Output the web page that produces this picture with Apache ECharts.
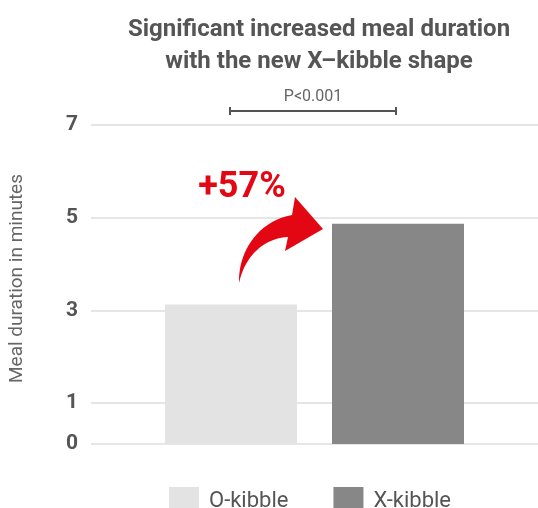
<!DOCTYPE html>
<html>
<head>
<meta charset="utf-8">
<script src="https://cdn.jsdelivr.net/npm/echarts@6/dist/echarts.min.js"></script>
<style>
	html, body { margin: 0; padding: 0; background: #fff; }
	#main { width: 538px; height: 508px; }
</style>
</head>
<body>
<div id="main"></div>
<script>
// 数据
var categories = ['O-kibble', 'X-kibble'];
var durations = [3.13, 4.87];
var barColors = ['#e3e3e3', '#878787'];
var increaseLabel = '+57%';
var pLabel = 'P<0.001';
var yBase = 0.12; // the bottom line, labelled "0"
var yTicks = [yBase, 1, 3, 5, 7];
var yTickLabels = ['0', '1', '3', '5', '7'];
var yMax = 7;

var FONT = 'Roboto';
var chart = echarts.init(document.getElementById('main'));

var series = [];
for (var i = 0; i < categories.length; i++) {
	var d = categories.map(function() { return '-'; });
	d[i] = durations[i];
	series.push({
		name : categories[i],
		type : 'bar',
		xAxisIndex : 1,
		yAxisIndex : 1,
		barWidth : 132,
		barGap : '-100%',
		itemStyle : { color : barColors[i] },
		data : d
	});
}

var option = {
	animation : false,
	title : {
		text : 'Significant increased meal duration\nwith the new X\u2013kibble shape',
		left : 314,
		top : 9,
		textAlign : 'center',
		textStyle : {
			fontFamily : FONT,
			fontSize : 24,
			fontWeight : 'bold',
			color : '#555',
			lineHeight : 32
		}
	},
	legend : {
		data : categories,
		left : 164,
		top : 482,
		icon : 'rect',
		itemWidth : 30,
		itemHeight : 28,
		itemGap : 45,
		textStyle : {
			fontFamily : FONT,
			fontSize : 22,
			color : '#555',
			padding : [0, 0, 0, 5]
		}
	},
	grid : [
		{ left : 86, right : 0, top : 125, bottom : 64 },
		{ left : 147.5, width : 334, top : 125, bottom : 64 }
	],
	xAxis : [
		{ type : 'category', gridIndex : 0, data : categories, show : false },
		{ type : 'category', gridIndex : 1, data : categories, show : false }
	],
	yAxis : [ {
		type : 'value',
		gridIndex : 0,
		min : yBase,
		max : yMax,
		name : 'Meal duration in minutes',
		nameLocation : 'middle',
		nameGap : 64,
		nameTextStyle : {
			fontFamily : FONT,
			fontSize : 19,
			color : '#666',
			padding : [0, 0, 0, 12]
		},
		axisLine : { show : false },
		axisTick : { show : false, customValues : yTicks },
		axisLabel : {
			customValues : yTicks,
			margin : 13,
			fontFamily : FONT,
			fontSize : 21,
			fontWeight : 'bold',
			color : '#555',
			formatter : function(v) {
				return yTickLabels[yTicks.indexOf(v)];
			}
		},
		splitLine : {
			show : true,
			lineStyle : { color : '#e6e6e6', width : 2 }
		}
	}, {
		type : 'value',
		gridIndex : 1,
		min : yBase,
		max : yMax,
		show : false,
		splitLine : { show : false }
	} ],
	series : series
};
chart.setOption(option);

// 显著性标注 + 箭头
var p0 = chart.convertToPixel({ xAxisIndex : 1, yAxisIndex : 1 }, [0, 7.3]);
var p1 = chart.convertToPixel({ xAxisIndex : 1, yAxisIndex : 1 }, [1, 7.3]);
var bx0 = Math.round(p0[0]) - 1, bx1 = Math.round(p1[0]) - 2, by = Math.round(p0[1]);

// 贝塞尔曲线取点
function bez(a, b, c, d, n) {
	var pts = [];
	for (var k = 0; k <= n; k++) {
		var t = k / n, u = 1 - t;
		pts.push([
			u * u * u * a[0] + 3 * u * u * t * b[0] + 3 * u * t * t * c[0] + t * t * t * d[0],
			u * u * u * a[1] + 3 * u * u * t * b[1] + 3 * u * t * t * c[1] + t * t * t * d[1]
		]);
	}
	return pts;
}
var arrowPts = bez([239, 283], [238, 255], [255, 222], [292, 215], 20)
	.concat([[295, 197], [323, 229], [285, 251]])
	.concat(bez([288, 237], [265, 238], [245, 255], [239, 283], 20));

chart.setOption({
	graphic : [ {
		type : 'line',
		shape : { x1 : bx0, y1 : by, x2 : bx1, y2 : by },
		style : { stroke : '#555', lineWidth : 2 }
	}, {
		type : 'line',
		shape : { x1 : bx0, y1 : by - 4, x2 : bx0, y2 : by + 4 },
		style : { stroke : '#555', lineWidth : 2 }
	}, {
		type : 'line',
		shape : { x1 : bx1, y1 : by - 4, x2 : bx1, y2 : by + 4 },
		style : { stroke : '#555', lineWidth : 2 }
	}, {
		type : 'text',
		x : (bx0 + bx1) / 2,
		y : by - 6,
		style : {
			text : pLabel,
			align : 'center',
			verticalAlign : 'bottom',
			fontFamily : FONT,
			fontSize : 16,
			fill : '#666'
		}
	}, {
		type : 'text',
		x : 242,
		y : 188,
		style : {
			text : increaseLabel,
			align : 'center',
			verticalAlign : 'middle',
			fontFamily : FONT,
			fontSize : 36,
			fontWeight : 'bold',
			fill : '#e30613'
		}
	}, {
		type : 'polygon',
		shape : { points : arrowPts },
		style : { fill : '#e30613' }
	} ]
});
</script>
</body>
</html>
